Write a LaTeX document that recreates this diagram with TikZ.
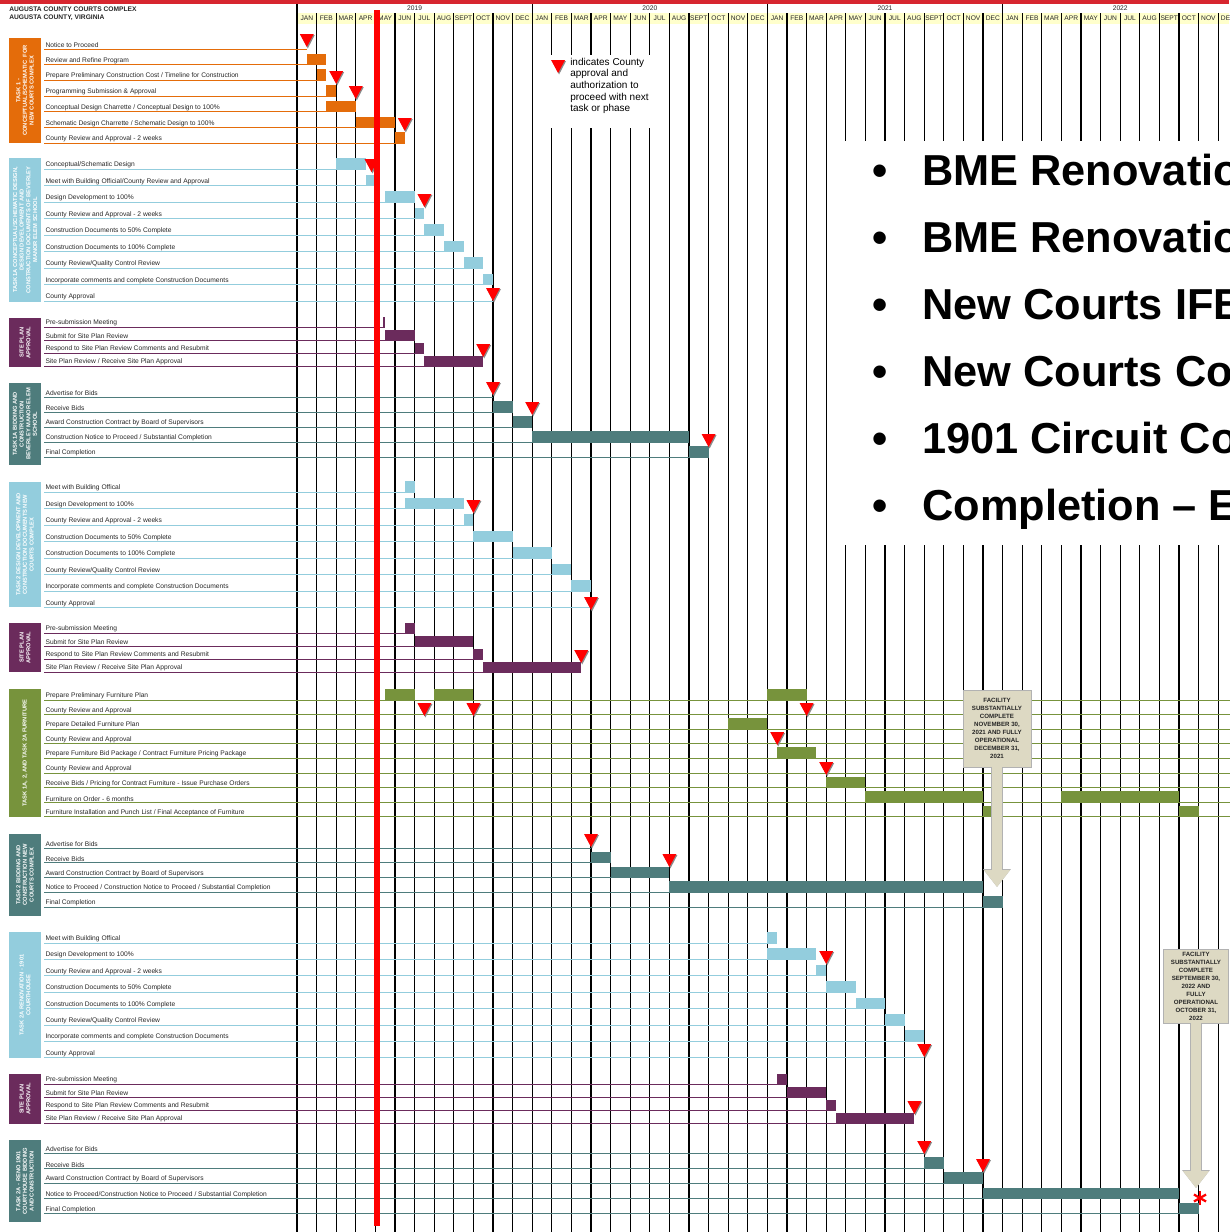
\documentclass[tikz,border=0pt]{standalone}
\usepackage{fontspec}
\setmainfont{Liberation Sans}
\usetikzlibrary{arrows.meta,positioning}

\definecolor{topred}{HTML}{D7262F}
\definecolor{hdryellow}{HTML}{FFFFCC}
\definecolor{taskorange}{HTML}{E46C0A}
\definecolor{tasksky}{HTML}{93CDDD}
\definecolor{taskplum}{HTML}{6B2B5C}
\definecolor{taskteal}{HTML}{4E7C7C}
\definecolor{taskolive}{HTML}{77933C}
\definecolor{callbg}{HTML}{DDD9C3}
\definecolor{msred}{HTML}{FF0000}

% x position of a month (0 = JAN 2019)
\newcommand{\monx}[1]{297+19.6*(#1)}

% red approval triangle, apex at month #1, height #2
\newcommand{\milestone}[2]{%
  \fill[black!45] ({\monx{#1}-6},{#2-12}) -- ({\monx{#1}+8},{#2-12}) -- ({\monx{#1}+1},{#2+1.5}) -- cycle;
  \fill[msred] ({\monx{#1}-7},{#2-13}) -- ({\monx{#1}+7},{#2-13}) -- ({\monx{#1}},{#2}) -- cycle;}

% task rows: tag, first line, step, colour, list of end/text
\newcommand{\taskrows}[5]{%
  \foreach \xe/\txt [count=\i from 0] in {#5} {
    \pgfmathsetmacro{\ry}{#2+#3*\i}
    \draw[#4, line width=0.7pt] (44,\ry) -- ({\monx{\xe}},\ry);
    \node[rowlbl] (#1-\i) at (44.5,\ry) {\txt};
  }}

% bars: colour, first line, step, height, list of start/end/row
\newcommand{\taskbars}[5]{%
  \foreach \a/\b/\r in {#5}
    \fill[#1] ({\monx{\a}},{#2+#3*\r-#4}) rectangle ({\monx{\b}},{#2+#3*\r});}

% coloured task box with turned text
\newcommand{\taskgroup}[5]{%
  \node[grpbox, fill=#4, minimum width={(#3-#2)*0.75pt}] (#1) at (25,{(#2+#3)/2}) {#5};}

\tikzset{
  vline/.style={line width=0.8pt, black},
  titlelbl/.style={anchor=west, inner sep=0pt, font=\bfseries\fontsize{5}{6}\selectfont, text=black!85},
  yrlbl/.style={inner sep=0pt, font=\fontsize{5}{6}\selectfont, text=black!85},
  monlbl/.style={inner sep=0pt, font=\fontsize{5}{6}\selectfont, text=black!85},
  rowlbl/.style={anchor=south west, inner sep=0.6pt, font=\fontsize{5}{6}\selectfont, text=black!85},
  grpbox/.style={rotate=90, align=center, text=white, minimum height=24pt, inner sep=0.5pt,
    font=\bfseries\fontsize{4.3}{5}\selectfont},
  legendlbl/.style={anchor=north west, align=left, inner sep=0pt, font=\fontsize{7.5}{8.8}\selectfont},
  bulletdot/.style={anchor=base, inner sep=0pt, font=\bfseries\fontsize{32.5}{32.5}\selectfont},
  bullettxt/.style={anchor=base west, inner sep=0pt, font=\bfseries\fontsize{32.5}{32.5}\selectfont},
  callout/.style={fill=callbg, draw=black!30, line width=0.4pt, align=center, inner sep=0.5pt,
    font=\bfseries\fontsize{4.6}{6}\selectfont, text=black!85},
  callarrow/.style={draw=callbg, line width=7.5pt, -{Triangle[width=18.75pt,length=12.75pt]},
    preaction={draw=black!30, line width=8.3pt, -{Triangle[width=20pt,length=13.5pt]}}},
  todayline/.style={msred, line width=4.5pt},
}

\begin{document}
\begin{tikzpicture}[x=0.75pt, y=-0.75pt]
    \useasboundingbox (0,0) rectangle (1229,1232);

    % Top band and titles
    \fill[topred] (0,0) rectangle (1229,3.5);
    \node[titlelbl] (title1) at (9,9) {AUGUSTA COUNTY COURTS COMPLEX};
    \node[titlelbl] (title2) at (9,18) {AUGUSTA COUNTY, VIRGINIA};

    % Month header
    \fill[hdryellow] ({\monx{0}},13) rectangle (1229,23.5);
    \foreach \yr/\yy in {0/2019,1/2020,2/2021,3/2022} {
        \node[yrlbl] (yr\yy) at ({\monx{12*\yr+6}},8) {\yy};
        \foreach \mn [count=\k from 0] in {JAN,FEB,MAR,APR,MAY,JUN,JUL,AUG,SEPT,OCT,NOV,DEC}
            \node[monlbl] (mon\yy-\k) at ({\monx{12*\yr+\k+0.5}},18.5) {\mn};
    }

    % Month grid
    \foreach \k in {0,...,48} \draw[vline] ({\monx{\k}},13) -- ({\monx{\k}},1232);
    \foreach \k in {0,12,24,36} \draw[vline] ({\monx{\k}},4) -- ({\monx{\k}},13);

    % Task boxes
    \taskgroup{task1}{38}{143}{taskorange}{TASK 1 -\\CONCEPTUAL/SCHEMATIC\ \ FOR\\NEW COURTS COMPLEX}
    \taskgroup{task1a}{158}{302}{tasksky}{TASK 1A CONCEPTUAL/SCHEMATIC DESIGN,\\DESIGN DEVELOPMENT AND\\CONSTRUCTION DOCUMENTS OF BEVERLEY\\MANOR ELEM SCHOOL}
    \taskgroup{site1a}{318}{367}{taskplum}{SITE PLAN\\APPROVAL}
    \taskgroup{bid1a}{383}{465}{taskteal}{TASK 1A BIDDING AND\\CONSTRUCTION\\BEVERLEY MANOR ELEM\\SCHOOL}
    \taskgroup{task2}{482}{607}{tasksky}{TASK 2 DESIGN DEVELOPMENT AND\\CONSTRUCTION DOCUMENTS NEW\\COURTS COMPLEX}
    \taskgroup{site2}{623}{672}{taskplum}{SITE PLAN\\APPROVAL}
    \taskgroup{furn}{689}{817}{taskolive}{TASK 1A, 2, AND TASK 2A FURNITURE}
    \taskgroup{bid2}{834}{916}{taskteal}{TASK 2 BIDDING AND\\CONSTRUCTION NEW\\COURTS COMPLEX}
    \taskgroup{task2a}{932}{1058}{tasksky}{TASK 2A RENOVATION - 1901\\COURTHOUSE}
    \taskgroup{site2a}{1074}{1124}{taskplum}{SITE PLAN\\APPROVAL}
    \taskgroup{bid2a}{1140}{1222}{taskteal}{TASK 2A - RENO 1901\\COURTHOUSE BIDDING\\AND CONSTRUCTION}

    % Task rows
    \taskrows{g1}{49}{15.7}{taskorange}{0.5/Notice to Proceed, 1.5/Review and Refine Program,
        1.5/{Prepare Preliminary Construction Cost / Timeline for Construction},
        2/Programming Submission \& Approval,
        3/{Conceptual Design Charrette / Conceptual Design to 100\%},
        5/{Schematic Design Charrette / Schematic Design to 100\%},
        5.5/County Review and Approval - 2 weeks}
    \taskrows{g2}{169}{16.5}{tasksky}{3.5/{Conceptual/Schematic Design},
        4/{Meet with Building Official/County Review and Approval},
        6/Design Development to 100\%, 6.5/County Review and Approval - 2 weeks,
        7.5/Construction Documents to 50\% Complete, 8.5/Construction Documents to 100\% Complete,
        9.5/{County Review/Quality Control Review},
        10/Incorporate comments and complete Construction Documents, 10/County Approval}
    \taskrows{g3}{327}{13}{taskplum}{4.5/Pre-submission Meeting, 6/Submit for Site Plan Review,
        6.5/Respond to Site Plan Review Comments and Resubmit,
        9.5/{Site Plan Review / Receive Site Plan Approval}}
    \taskrows{g4}{397}{15}{taskteal}{10/Advertise for Bids, 11/Receive Bids,
        12/Award Construction Contract by Board of Supervisors,
        20/{Construction Notice to Proceed / Substantial Completion}, 21/Final Completion}
    \taskrows{g5}{492}{16.5}{tasksky}{6/Meet with Building Offical, 8.5/Design Development to 100\%,
        9/County Review and Approval - 2 weeks, 11/Construction Documents to 50\% Complete,
        13/Construction Documents to 100\% Complete, 14/{County Review/Quality Control Review},
        15/Incorporate comments and complete Construction Documents, 15/County Approval}
    \taskrows{g6}{633}{13}{taskplum}{6/Pre-submission Meeting, 9/Submit for Site Plan Review,
        9.5/Respond to Site Plan Review Comments and Resubmit,
        14.5/{Site Plan Review / Receive Site Plan Approval}}
    \taskrows{g7}{700}{14.6}{taskolive}{47.6/Prepare Preliminary Furniture Plan, 47.6/County Review and Approval,
        47.6/Prepare Detailed Furniture Plan, 47.6/County Review and Approval,
        47.6/{Prepare Furniture Bid Package / Contract Furniture Pricing Package},
        47.6/County Review and Approval,
        47.6/{Receive Bids / Pricing for Contract Furniture - Issue Purchase Orders},
        47.6/Furniture on Order - 6 months,
        47.6/{Furniture Installation and Punch List / Final Acceptance of Furniture}}
    \taskrows{g8}{848}{14.8}{taskteal}{15/Advertise for Bids, 16/Receive Bids,
        19/Award Construction Contract by Board of Supervisors,
        35/{Notice to Proceed / Construction Notice to Proceed / Substantial Completion},
        36/Final Completion}
    \taskrows{g9}{943}{16.4}{tasksky}{24.5/Meet with Building Offical, 26.5/Design Development to 100\%,
        27/County Review and Approval - 2 weeks, 28.5/Construction Documents to 50\% Complete,
        30/Construction Documents to 100\% Complete, 31/{County Review/Quality Control Review},
        32/Incorporate comments and complete Construction Documents, 32/County Approval}
    \taskrows{g10}{1084}{13}{taskplum}{25/Pre-submission Meeting, 27/Submit for Site Plan Review,
        27.5/Respond to Site Plan Review Comments and Resubmit,
        31.5/{Site Plan Review / Receive Site Plan Approval}}
    \taskrows{g11}{1153}{15.2}{taskteal}{32/Advertise for Bids, 33/Receive Bids,
        35/Award Construction Contract by Board of Supervisors,
        45/{Notice to Proceed/Construction Notice to Proceed / Substantial Completion},
        46/Final Completion}

    % Bars
    \taskbars{taskorange}{49}{15.7}{11}{0.5/1.5/1, 1/1.5/2, 1.5/2/3, 1.5/3/4, 3/5/5, 5/5.5/6}
    \taskbars{tasksky}{169}{16.5}{11}{2/3.5/0, 3.5/4/1, 4.5/6/2, 6/6.5/3, 6.5/7.5/4, 7.5/8.5/5, 8.5/9.5/6, 9.5/10/7}
    \taskbars{taskplum}{327}{13}{10}{4.4/4.5/0, 4.5/6/1, 6/6.5/2, 6.5/9.5/3}
    \taskbars{taskteal}{397}{15}{11}{10/11/1, 11/12/2, 12/20/3, 20/21/4}
    \taskbars{tasksky}{492}{16.5}{11}{5.5/6/0, 5.5/8.5/1, 8.5/9/2, 9/11/3, 11/13/4, 13/14/5, 14/15/6}
    \taskbars{taskplum}{633}{13}{10}{5.5/6/0, 6/9/1, 9/9.5/2, 9.5/14.5/3}
    \taskbars{taskolive}{700}{14.6}{11}{4.5/6/0, 7/9/0, 24/26/0, 22/24/2, 24.5/26.5/4, 27/29/6,
        29/35/7, 39/45/7, 35/36/8, 45/46/8}
    \taskbars{taskteal}{848}{14.8}{11}{15/16/1, 16/19/2, 19/35/3, 35/36/4}
    \taskbars{tasksky}{943}{16.4}{11}{24/24.5/0, 24/26.5/1, 26.5/27/2, 27/28.5/3, 28.5/30/4, 30/31/5, 31/32/6}
    \taskbars{taskplum}{1084}{13}{10}{24.5/25/0, 25/27/1, 27/27.5/2, 27.5/31.5/3}
    \taskbars{taskteal}{1153}{15.2}{11}{32/33/1, 33/35/2, 35/45/3, 45/46/4}

    % Approval triangles
    \foreach \m/\y in {0.5/47, 2/84, 3/99, 5.5/131, 3.8/172, 6.5/207, 10/301, 9.5/357,
        10/395, 12/415, 21/447, 9/513, 15/610, 14.5/663, 6.5/716, 9/716, 26/716,
        24.5/745, 27/775, 15/847, 19/867, 27/964, 32/1057, 31.5/1114, 32/1154, 35/1172}
        \milestone{\m}{\y};

    % Legend
    \fill[white] (549,55) rectangle (652,128);
    \milestone{13.32}{73};
    \node[legendlbl] (legend) at (570,57.5) {indicates County\\approval and\\authorization to\\proceed with next\\task or phase};

    % Pasted bullet list
    \fill[white] (829,141) rectangle (1229,545);
    \foreach \t [count=\i from 0] in {BME Renovatio, BME Renovatio, New Courts IFB, New Courts Co,
        1901 Circuit Co, Completion \textendash\ E} {
        \node[bulletdot] (dot\i) at (880,{185+67*\i}) {\textbullet};
        \node[bullettxt] (pt\i) at (922,{185+67*\i}) {\t};
    }

    % Completion callouts
    \node[callout, minimum width=51pt, minimum height=57.75pt] (fac1) at (997,728.5)
        {FACILITY\\SUBSTANTIALLY\\COMPLETE\\NOVEMBER 30,\\2021 AND FULLY\\OPERATIONAL\\DECEMBER 31,\\2021};
    \coordinate (fac1tip) at (997,887);
    \draw[callarrow] (fac1.south) -- (fac1tip);

    \node[callout, minimum width=48.75pt, minimum height=55.5pt] (fac2) at (1196,986)
        {FACILITY\\SUBSTANTIALLY\\COMPLETE\\SEPTEMBER 30,\\2022 AND\\FULLY\\OPERATIONAL\\OCTOBER 31,\\2022};
    \coordinate (fac2tip) at (1196,1188);
    \draw[callarrow] (fac2.south) -- (fac2tip);

    % Red asterisk at final completion
    \coordinate (finish) at (1200,1198);
    \foreach \a in {90,150,210}
        \draw[msred, line width=1.7pt] (finish) ++(\a:7) -- ++(\a+180:14);

    % Current date line
    \draw[todayline] ({\monx{4.1}},10) -- ({\monx{4.1}},1226);
\end{tikzpicture}
\end{document}
